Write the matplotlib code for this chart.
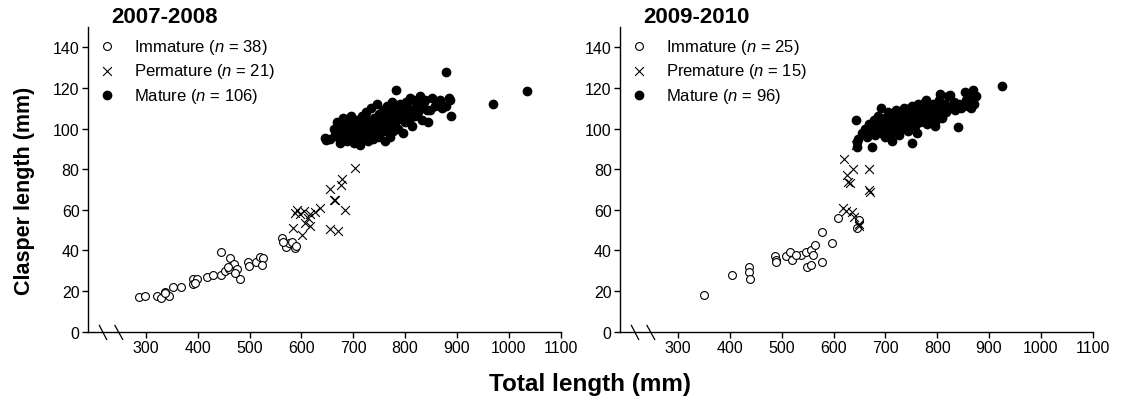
import numpy as np
import matplotlib
matplotlib.use("Agg")
import matplotlib.pyplot as plt

plt.rcParams['font.family'] = ['Liberation Sans', 'DejaVu Sans']
plt.rcParams['mathtext.fontset'] = 'custom'
plt.rcParams['mathtext.it'] = 'Liberation Sans:italic'
plt.rcParams['mathtext.rm'] = 'Liberation Sans'

# ---- 2007-2008 ----
imm1_x = [287, 298, 322, 328, 337, 345, 353, 368, 391, 398, 391, 417, 429, 444, 444, 453, 462, 469, 461,
          475, 481, 497, 499, 512, 520, 526, 523, 562, 570, 575, 582, 588, 336, 395, 458, 472, 565, 590]
imm1_y = [16.8, 17.7, 17.7, 16.5, 19.7, 17.7, 21.8, 21.7, 26, 25.7, 23.5, 26.8, 28, 28, 39, 30, 36, 33.5, 31,
          31, 26, 34.3, 32.3, 34.3, 36.8, 36, 33, 46, 41.8, 43.5, 44.3, 41.3, 19, 24, 32, 29, 44, 42]

pre1_x = [703, 678, 676, 655, 665, 684, 636, 591, 597, 617, 613, 617, 584, 601, 655, 671, 607, 626, 588, 604, 662]
pre1_y = [80.5, 75, 72, 70, 64.7, 60, 61, 60, 58, 58, 56, 52, 51, 47.7, 50.5, 49.3, 53.5, 59, 58.5, 59.3, 65]

mat1_x = [645, 648, 655, 662, 665, 668, 670, 672, 675, 678, 680, 682,
          685, 688, 690, 692, 695, 697, 700, 702, 704, 706, 708, 710, 712, 713, 715, 716, 718, 720,
          722, 724, 725, 727, 729, 730, 732, 734, 735, 737, 739, 740, 742, 744, 745, 747, 749, 750, 752, 754,
          757, 758, 760,
          761, 763, 765, 766, 768, 770, 772, 773, 775, 777, 778, 780, 782, 783, 785, 787, 789, 790, 792, 795,
          797, 799,
          801, 803, 806, 808, 810, 813, 815, 816, 819, 822, 825, 828, 830, 833, 836, 839, 842, 845, 848,
          852, 858, 864, 867, 872, 879, 879, 884, 887, 889,
          969, 1036]
mat1_y = [95.5, 94.5, 95, 100, 97, 103, 96, 99, 93, 101, 105, 97,
          100, 94, 103, 98, 106, 96, 101, 93, 99, 104, 97, 102, 95, 92, 100, 106, 98, 103,
          96, 101, 108, 99, 94, 104, 97, 102, 110, 100, 95, 105, 98, 103, 112, 99, 96, 107, 101, 104,
          109, 102, 99,
          94, 105, 111, 100, 103, 96, 108, 101, 113, 99, 106, 103, 119, 110, 104, 100, 108, 112, 105, 98,
          109, 103,
          113, 107, 110, 104, 115, 101, 109, 114, 106, 112, 108, 116, 110, 104, 113, 114, 109, 103, 109,
          115, 111, 113, 114, 110, 111, 127.6, 115, 114, 106,
          112, 118.5]

# ---- 2009-2010 ----
imm2_x = [350, 405, 436, 436, 438, 487, 490, 490, 509, 517, 520, 537, 547, 557, 560, 564, 549, 557, 577,
          577, 598, 609, 649, 646, 528]
imm2_y = [18, 27.9, 32, 29.5, 26, 37, 35, 34, 37, 39, 35, 37.8, 39, 40, 37.5, 42.7, 32, 32.8, 34,
          49, 43.8, 56, 55, 51, 37.6]

pre2_x = [621, 637, 627, 628, 631, 668, 670, 669, 619, 635, 624, 649, 650, 640, 643]
pre2_y = [85, 80, 77, 73.5, 73, 80, 68.5, 69.5, 61, 59, 59.5, 53, 52, 56.5, 92]

mat2_x = [643, 646, 646, 648, 655, 660, 665, 668, 672, 675, 678, 681, 684, 686, 689, 691,
          694, 697, 700, 702, 705, 708, 710, 713, 715, 718, 720, 722, 725, 727, 730, 732, 735, 737, 739,
          741, 743, 745, 747, 749, 751, 752, 754, 756, 758, 760, 762, 764, 766, 768, 770, 772, 774, 776,
          778, 780, 782, 785, 787, 789,
          792, 795, 797, 800, 803, 805, 808, 810, 813, 816, 818, 821, 825, 828, 832, 835, 840, 843, 847,
          853, 856, 860, 864, 866, 869, 871, 875, 925,
          700, 712, 726, 748, 762, 779, 796, 806]
mat2_y = [104, 93.3, 91, 95, 98, 100, 96, 102, 99, 91, 104, 97, 101, 106, 99, 110,
          103, 97, 105, 100, 108, 102, 98, 106, 101, 104, 109, 99, 105, 102, 107, 100, 104, 110, 103,
          106, 99, 108, 102, 105, 93, 111, 104, 107, 101, 109, 105, 112, 103, 108, 106, 110, 104, 113,
          107, 102, 109, 105, 111, 107,
          112, 108, 104, 110, 114, 107, 111, 105, 109, 112, 108, 116, 116.6, 110, 113, 109, 100.7, 112, 110,
          118, 114, 111, 116, 110, 119, 112, 116, 121,
          96, 94, 97, 110, 98, 114, 101, 117]

panels = [
    ("2007-2008", imm1_x, imm1_y, pre1_x, pre1_y, mat1_x, mat1_y,
     ["Immature ($n$ = 38)", "Permature ($n$ = 21)", "Mature ($n$ = 106)"]),
    ("2009-2010", imm2_x, imm2_y, pre2_x, pre2_y, mat2_x, mat2_y,
     ["Immature ($n$ = 25)", "Premature ($n$ = 15)", "Mature ($n$ = 96)"]),
]

fig = plt.figure(figsize=(11.32, 4.06), dpi=100)
lefts = [0.0777, 0.5477]

for left, (title, ix, iy, px, py, mx, my, labels) in zip(lefts, panels):
    ax = fig.add_axes([left, 0.181, 0.4175, 0.75])
    h1 = ax.scatter(ix, iy, s=32, facecolors='white', edgecolors='black', linewidths=0.8, zorder=3)
    h2 = ax.scatter(px, py, s=40, marker='x', color='black', linewidths=0.8, zorder=3)
    h3 = ax.scatter(mx, my, s=36, color='black', zorder=2)
    ax.set_xlim(188, 1100)
    ax.set_ylim(0, 150)
    ax.set_xticks(np.arange(300, 1101, 100))
    ax.set_yticks(np.arange(0, 141, 20))
    ax.spines['top'].set_visible(False)
    ax.spines['right'].set_visible(False)
    for s in ['left', 'bottom']:
        ax.spines[s].set_linewidth(1.0)
    ax.tick_params(direction='out', length=4, width=1, labelsize=11.5, pad=2)
    # axis break marks
    tr = ax.get_xaxis_transform()
    for x0, x1 in [(210, 224), (240, 255)]:
        ax.plot([x0, x1], [0.02, -0.026], color='black', lw=0.9, transform=tr, clip_on=False)
    ax.text(0.05, 1.033, title, transform=ax.transAxes, fontsize=16, fontweight='bold',
            ha='left', va='center')
    ax.legend([h1, h2, h3], labels, loc='upper left', bbox_to_anchor=(0.0085, 0.99), frameon=False,
              fontsize=12, handlelength=1.0, handletextpad=1.1, labelspacing=0.33,
              borderaxespad=0, borderpad=0.4, scatterpoints=1)

fig.text(0.022, 0.53, "Clasper length (mm)", rotation=90, fontsize=15.5, fontweight='bold',
         ha='center', va='center')
fig.text(0.521, 0.052, "Total length (mm)", fontsize=17.5, fontweight='bold',
         ha='center', va='center')

fig.savefig("out.png", dpi=100)
